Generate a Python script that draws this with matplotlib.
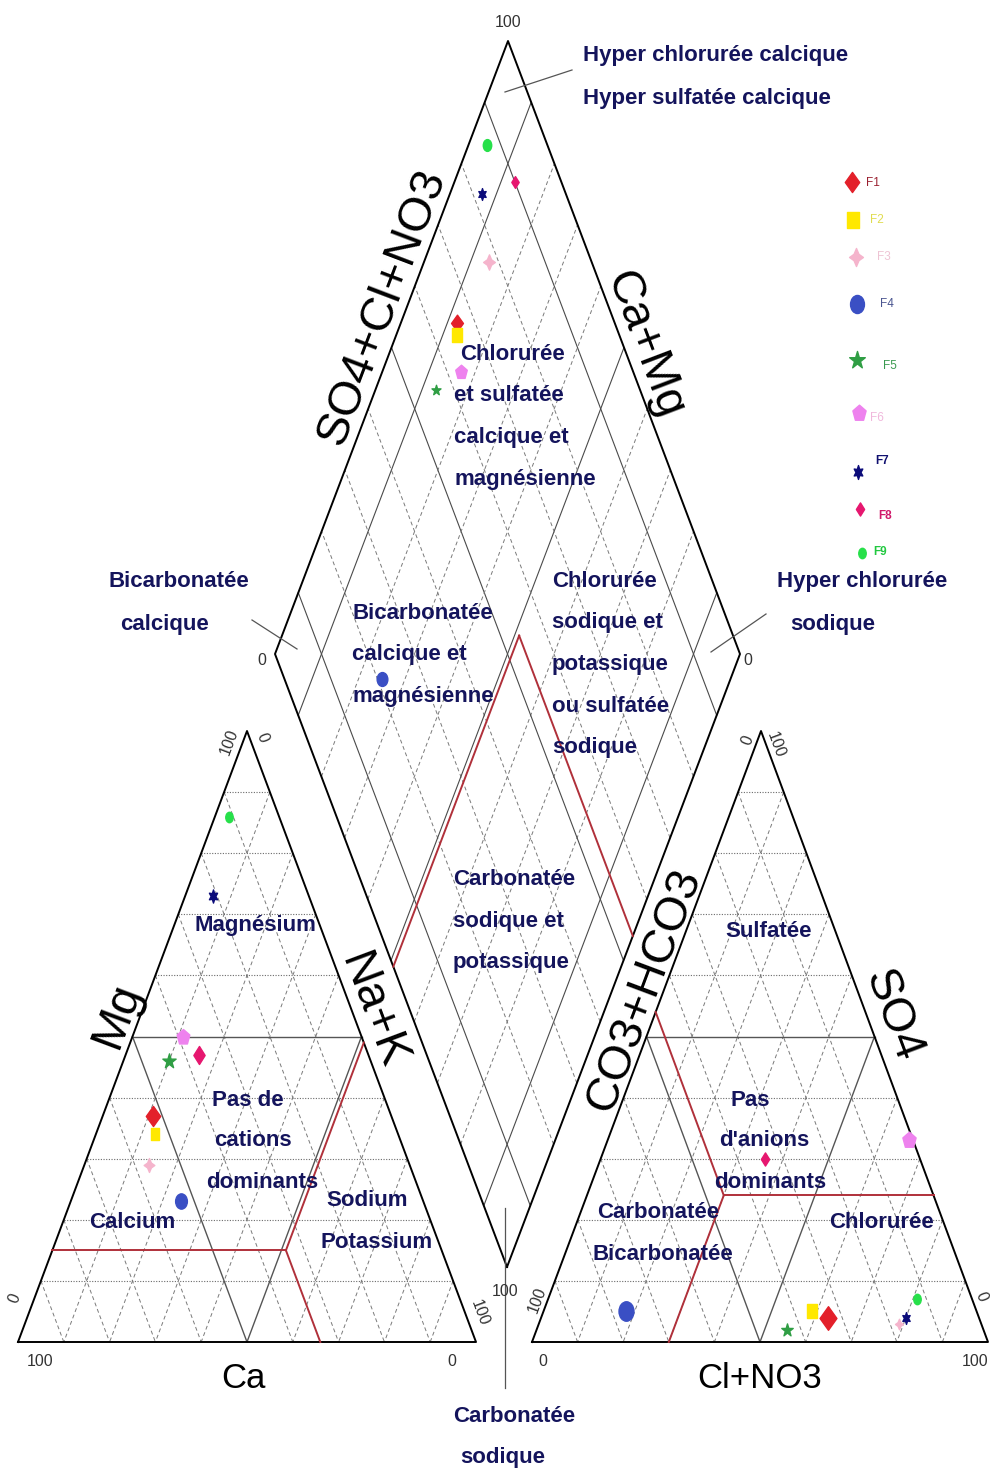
import numpy as np
import matplotlib
matplotlib.use('Agg')
import matplotlib.pyplot as plt
from matplotlib.markers import MarkerStyle
from matplotlib.transforms import Affine2D

samples = ['F1', 'F2', 'F3', 'F4', 'F5', 'F6', 'F7', 'F8', 'F9']

# cations (% meq/l)
ca = [52, 53, 57, 53, 44, 39, 21, 37, 11]
mg = [37, 34, 29, 23, 46, 50, 73, 47, 86]
nak = [11, 13, 14, 24, 10, 11, 6, 16, 3]

# anions (% meq/l)
co3 = [33, 36, 18, 77, 43, 1, 16, 34, 12]
cl = [63, 59, 79, 18, 55, 66, 80, 36, 81]
so4 = [4, 5, 3, 5, 2, 33, 4, 30, 7]

# losange : Ca+Mg et SO4+Cl+NO3
dia_camg = [88, 87, 86, 75, 87, 83, 93, 87, 96]
dia_so4cl = [66, 65, 78, 21, 56, 63, 82, 90, 87]

# limites des faciès (traits rouges)
lim_mg = 15
lim_na = 51
lim_so4 = 24
lim_so4cl = 54

colors = ['#e3202a', '#ffe800', '#f5b4cc', '#3a4fc4', '#2f9e44',
          '#ee82ee', '#0c0c7a', '#e6176f', '#27e04a']
label_colors = ['#9a2030', '#e0dc50', '#eec4d4', '#4a5590', '#3a9a50',
                '#f0b8dc', '#101070', '#d0186a', '#22c840']


def tall(m, k=1.35):
    ms = MarkerStyle(m)
    p = ms.get_path().transformed(ms.get_transform())
    return p.transformed(Affine2D().scale(1, k))


markers = [tall('D', 1.4), tall('s', 1.3), tall((4, 1, 0), 1.3), tall('o', 1.3),
           tall('*', 1.1), tall('p', 1.2), tall((6, 1, 0), 1.4), tall('D', 1.6),
           tall('o', 1.4)]
size_leg = [14.5, 12, 13, 13, 13, 12, 10, 9.5, 7.5]
size_lt = [14.5, 8, 10, 11, 11, 11.5, 9.5, 13, 7.5]
size_rt = [17, 10, 7.5, 14, 9.5, 12, 8.5, 9.5, 7.5]
size_dia = [12, 10, 11, 10, 7.5, 10.5, 8.5, 8.5, 8.5]

fig = plt.figure(figsize=(9.9, 14.74), dpi=100)
ax = fig.add_axes([0, 0, 1, 1])
ax.set_xlim(0, 990)
ax.set_ylim(1474, 0)
ax.axis('off')

# sommets en pixels
LT = np.array([[18, 1342], [476, 1342], [247, 731]])   # Ca, Na+K, Mg
RT = np.array([[532, 1342], [988, 1342], [761, 731]])  # CO3+HCO3, Cl+NO3, SO4
DB = np.array([507, 1267])
DL = np.array([275, 654])
DR = np.array([740, 654])
DT = DL + DR - DB


def tri(corners, a, b, c):
    w = np.column_stack([np.atleast_1d(a), np.atleast_1d(b), np.atleast_1d(c)]) / 100.0
    return w @ corners


def dia(camg, so4cl):
    camg = np.atleast_1d(camg) / 100.0
    so4cl = np.atleast_1d(so4cl) / 100.0
    return DB + np.outer(camg, DL - DB) + np.outer(so4cl, DR - DB)


def seg(p, q, **kw):
    p = np.atleast_2d(p)[0]
    q = np.atleast_2d(q)[0]
    ax.plot([p[0], q[0]], [p[1], q[1]], **kw)


grid_dash = dict(color='#7a7a7a', lw=0.7, dashes=(4, 3))
grid_dot = dict(color='#6a6a6a', lw=0.8, dashes=(1, 1.4))
mid = dict(color='#555555', lw=1.0)
red = dict(color='#b0303a', lw=1.4)
edge = dict(color='black', lw=1.4)


def tri_grid(c):
    for k in range(10, 100, 10):
        seg(tri(c, 100 - k, 0, k), tri(c, 0, 100 - k, k), **(mid if k == 50 else grid_dot))
        seg(tri(c, k, 0, 100 - k), tri(c, k, 100 - k, 0), **(mid if k == 50 else grid_dash))
        seg(tri(c, 0, k, 100 - k), tri(c, 100 - k, k, 0), **(mid if k == 50 else grid_dash))
    ax.plot(*np.vstack([c, c[:1]]).T, **edge)


tri_grid(LT)
tri_grid(RT)

for k in range(10, 100, 10):
    st = dict(color='#4a4a4a', lw=0.8) if k in (10, 50, 90) else grid_dash
    seg(dia(k, 0), dia(k, 100), **st)
    seg(dia(0, k), dia(100, k), **st)
ax.plot(*np.vstack([DB, DL, DT, DR, DB]).T, **edge)

# limites rouges
lim_ca = 100 - lim_mg - lim_na
seg(tri(LT, 100 - lim_mg, 0, lim_mg), tri(LT, lim_ca, lim_na, lim_mg), **red)
seg(tri(LT, lim_ca, lim_na, lim_mg), tri(LT, 0, lim_na, 100 - lim_na), **red)
seg(tri(LT, lim_ca, lim_na, lim_mg), tri(LT, lim_ca, 100 - lim_ca, 0), **red)

lim_co3 = 100 - lim_so4cl
lim_cl = 100 - lim_co3 - lim_so4
seg(tri(RT, 0, 100 - lim_so4, lim_so4), tri(RT, lim_co3, lim_cl, lim_so4), **red)
seg(tri(RT, lim_co3, lim_cl, lim_so4), tri(RT, lim_co3, 0, 100 - lim_co3), **red)
seg(tri(RT, lim_co3, lim_cl, lim_so4), tri(RT, 100 - lim_cl, lim_cl, 0), **red)

seg(dia(100 - lim_na, 0), dia(100 - lim_na, lim_so4cl), **red)
seg(dia(100 - lim_na, lim_so4cl), dia(0, lim_so4cl), **red)

# points
p_lt = tri(LT, ca, nak, mg)
p_rt = tri(RT, co3, cl, so4)
p_d = dia(dia_camg, dia_so4cl)
for i in range(len(samples)):
    for pts, sz in ((p_lt, size_lt), (p_rt, size_rt), (p_d, size_dia)):
        ax.plot(pts[i, 0], pts[i, 1], marker=markers[i], ms=sz[i], color=colors[i],
                mec=colors[i], ls='none', zorder=5)

sans = ['Liberation Sans', 'DejaVu Sans']

# légende
leg_mk = [(852, 182), (853, 220), (856, 257), (857, 304), (857, 360),
          (859, 413), (858, 472), (860, 509), (862, 553)]
leg_tx = [(866, 183), (870, 220), (877, 257), (880, 304), (883, 366),
          (870, 418), (875, 461), (878, 516), (873, 552)]
for i, s in enumerate(samples):
    ax.plot(*leg_mk[i], marker=markers[i], ms=size_leg[i], color=colors[i], ls='none')
    ax.text(*leg_tx[i], s, color=label_colors[i], fontsize=8.5, family=sans,
            fontweight='bold' if i >= 6 else 'normal', ha='left', va='center')

# titres des axes
ttl = dict(family=sans, fontsize=34, color='black',
           ha='center', va='center', rotation_mode='anchor')
ang = np.degrees(np.arctan2(LT[0, 1] - LT[2, 1], LT[2, 0] - LT[0, 0]))
dang = np.degrees(np.arctan2(DL[1] - DT[1], DT[0] - DL[0]))
ax.text(117, 1016, 'Mg', rotation=ang, **ttl)
ax.text(372, 1011, 'Na+K', rotation=-ang, **ttl)
ax.text(644, 990, 'CO3+HCO3', rotation=ang, **ttl)
ax.text(893, 1016, 'SO4', rotation=-ang, **ttl)
ax.text(382, 307, 'SO4+Cl+NO3', rotation=dang, **ttl)
ax.text(644, 345, 'Ca+Mg', rotation=-dang, **ttl)
ax.text(243, 1378, 'Ca', family=sans, fontsize=25, ha='center', va='center')
ax.text(760, 1378, 'Cl+NO3', family=sans, fontsize=25, ha='center', va='center')

# graduations
tk = dict(family=sans, fontsize=11.5, color='#333333',
          ha='center', va='center', rotation_mode='anchor')
for x, y, s, r in [(40, 1362, '100', 0), (452, 1362, '0', 0), (15, 1298, '0', ang),
                   (229, 742, '100', ang), (262, 738, '0', -ang), (480, 1313, '100', -ang),
                   (543, 1362, '0', 0), (975, 1362, '100', 0), (537, 1300, '100', ang),
                   (748, 740, '0', ang), (776, 745, '100', -ang), (981, 1297, '0', -ang),
                   (508, 22, '100', 0), (262, 660, '0', 0), (748, 660, '0', 0),
                   (505, 1292, '100', 0)]:
    ax.text(x, y, s, rotation=r, **tk)

# noms des faciès
reg = dict(color='#14145c', fontsize=16, fontweight='bold', family=sans,
           va='center', ha='left', zorder=6)
regions = [
    ('Chlorurée', 460, 354), ('et sulfatée', 454, 395), ('calcique et', 454, 437),
    ('magnésienne', 454, 479),
    ('Bicarbonatée', 352, 613), ('calcique et', 352, 654), ('magnésienne', 352, 696),
    ('Chlorurée', 552, 581), ('sodique et', 552, 622), ('potassique', 552, 664),
    ('ou sulfatée', 552, 706), ('sodique', 552, 747),
    ('Carbonatée', 453, 879), ('sodique et', 453, 921), ('potassique', 453, 962),
    ('Magnésium', 195, 925), ('Pas de', 212, 1100), ('cations', 214, 1141),
    ('dominants', 206, 1182), ('Calcium', 89, 1222), ('Sodium', 326, 1201),
    ('Potassium', 320, 1243),
    ('Sulfatée', 725, 931), ('Pas', 730, 1100), ("d'anions", 719, 1141),
    ('dominants', 714, 1182), ('Carbonatée', 597, 1213), ('Bicarbonatée', 592, 1254),
    ('Chlorurée', 829, 1222),
    ('Hyper chlorurée calcique', 583, 55), ('Hyper sulfatée calcique', 583, 98),
    ('Bicarbonatée', 108, 581), ('calcique', 120, 624),
    ('Hyper chlorurée', 777, 581), ('sodique', 790, 624),
    ('Carbonatée', 453, 1417), ('sodique', 460, 1457),
]
for s, x, y in regions:
    ax.text(x, y, s, **reg)

# renvois vers les pointes du losange
pt = dict(color='#555555', lw=0.9)
ax.plot([505, 572], [92, 70], **pt)
ax.plot([252, 297], [620, 649], **pt)
ax.plot([711, 766], [652, 614], **pt)
ax.plot([505, 505], [1208, 1388], **pt)

fig.savefig('out.png', dpi=100)
